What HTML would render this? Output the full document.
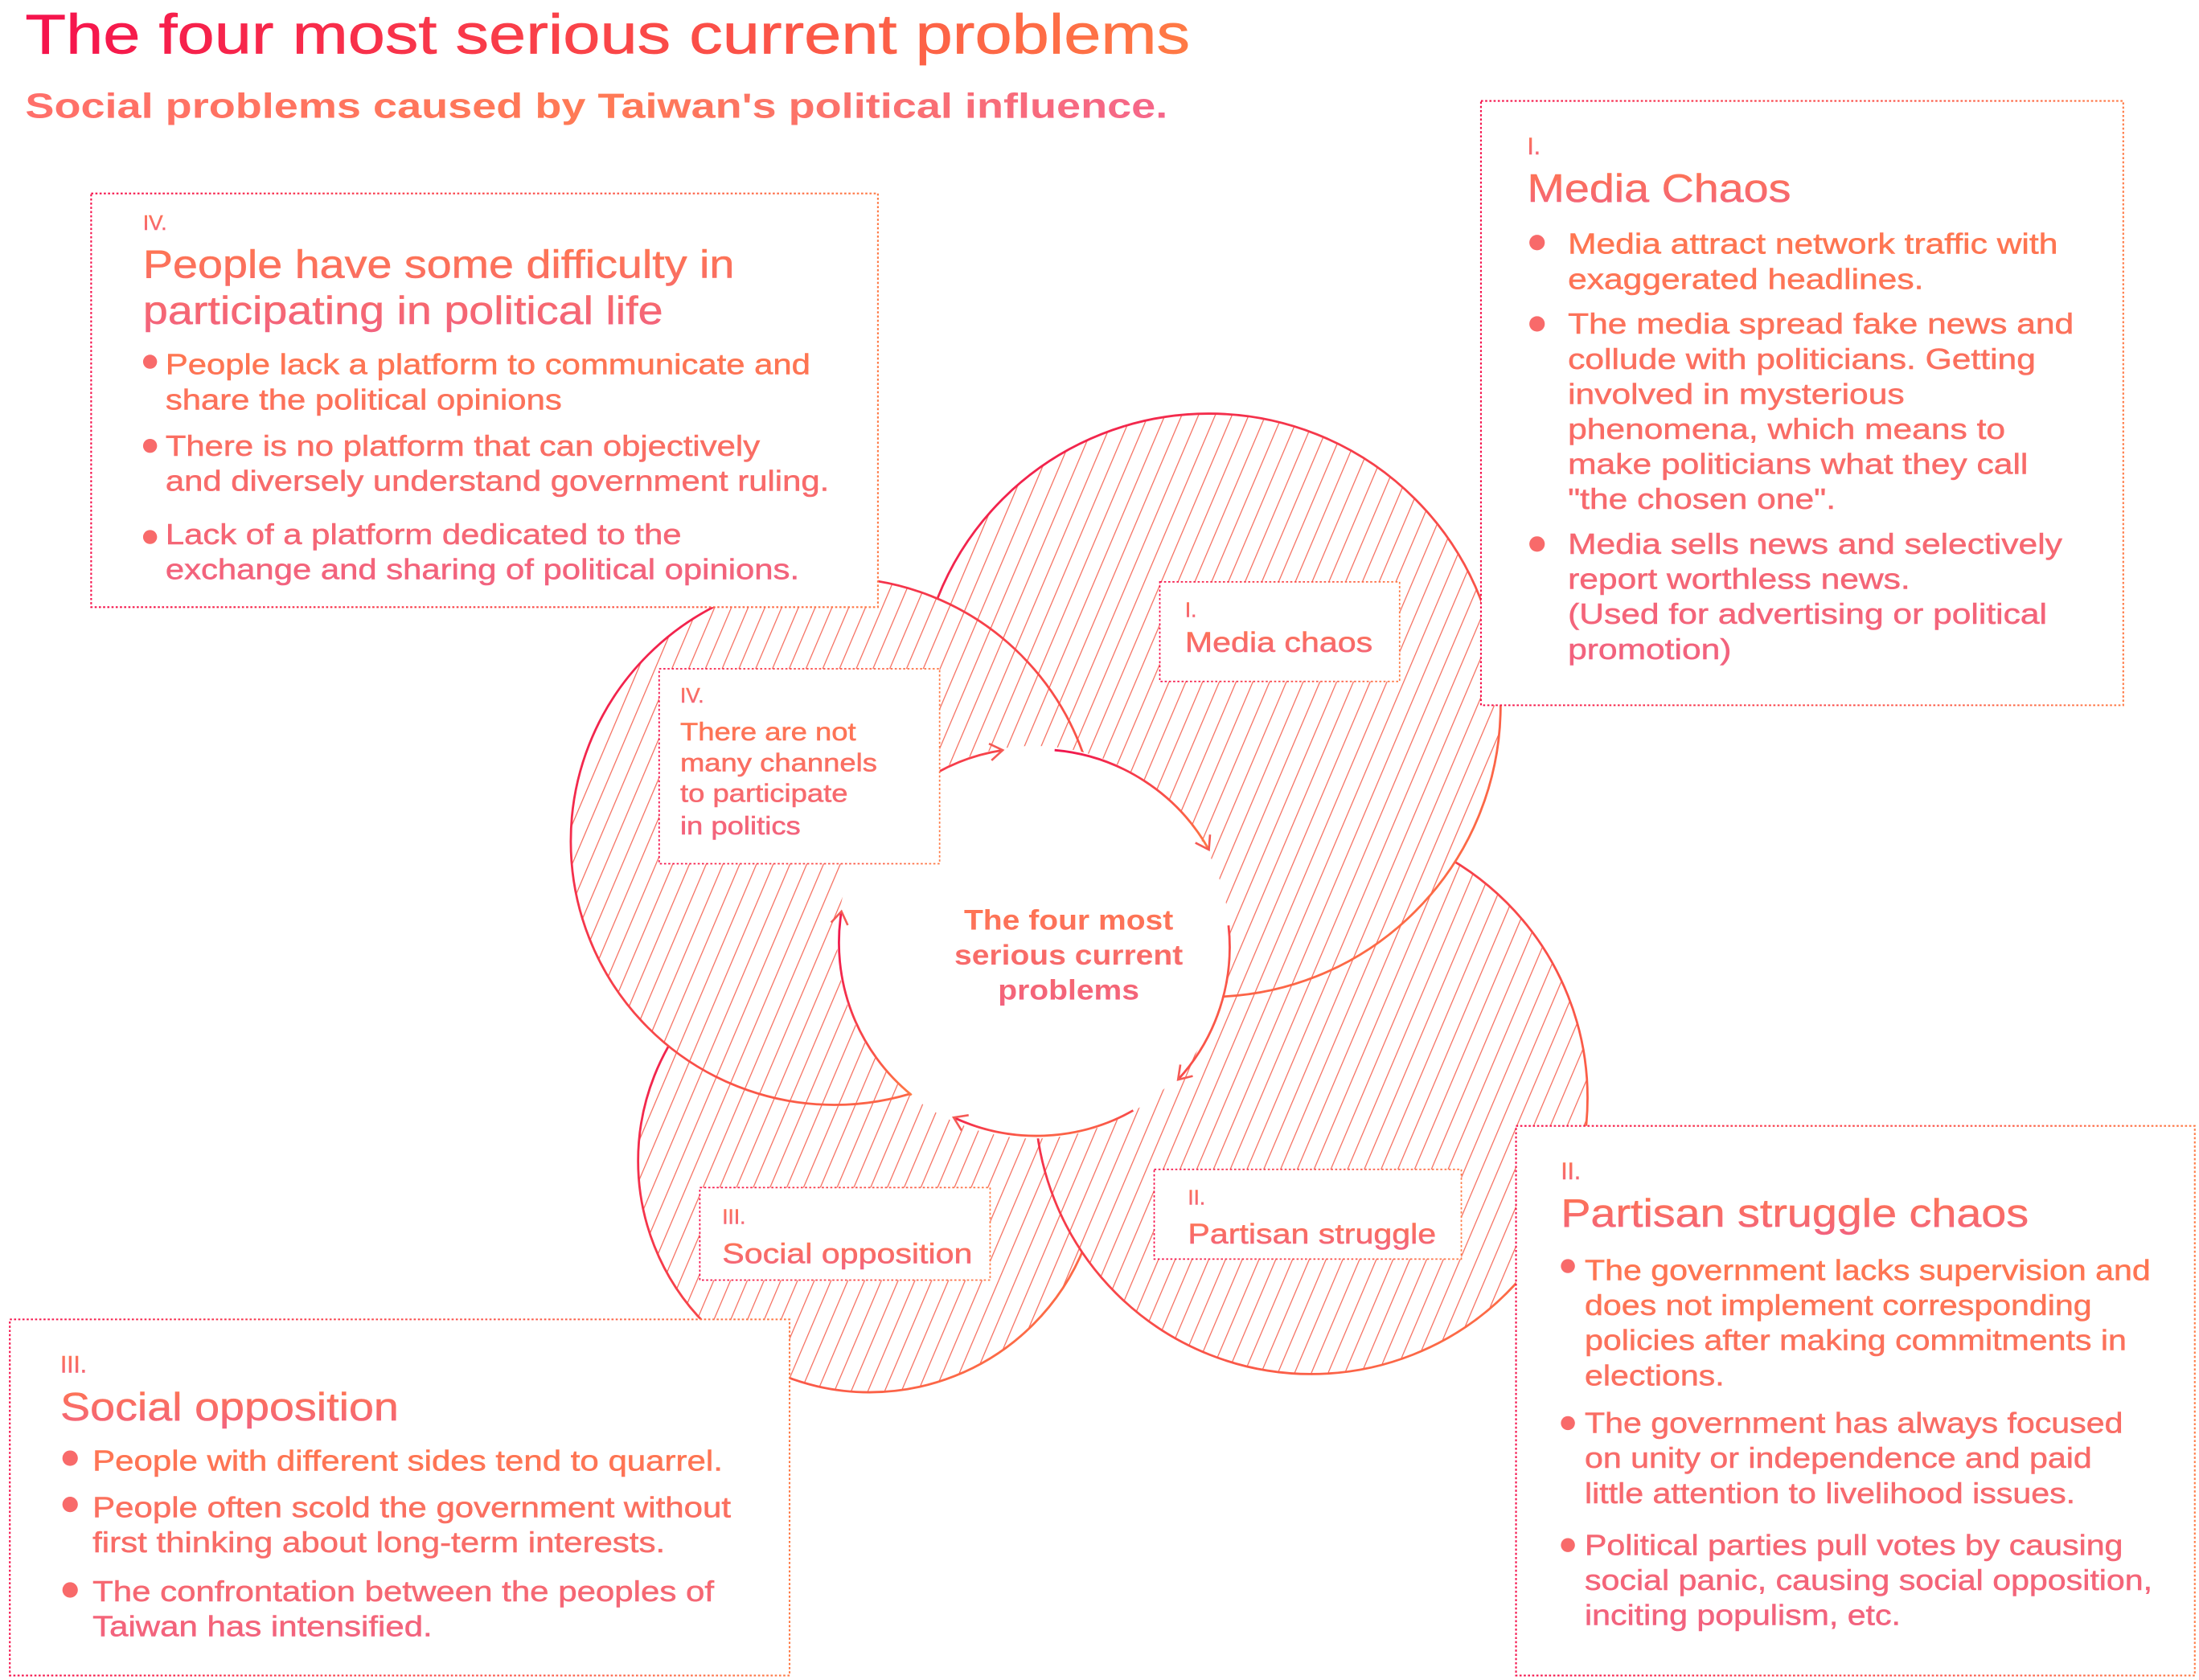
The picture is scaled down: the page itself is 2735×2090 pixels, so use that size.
<!DOCTYPE html>
<html><head><meta charset="utf-8"><style>
html,body{margin:0;padding:0;background:#fff;}
svg{display:block;}
text{font-family:"Liberation Sans",sans-serif;}
</style></head><body>
<svg width="2735" height="2090" viewBox="0 0 1568 1198.2" xmlns="http://www.w3.org/2000/svg">
<defs>
<linearGradient id="tg" x1="0" y1="0" x2="1" y2="0"><stop offset="0" stop-color="#f5124c"/><stop offset="1" stop-color="#ff7a45"/></linearGradient>
<linearGradient id="sg" x1="0" y1="0" x2="1" y2="0"><stop offset="0" stop-color="#ff6f6a"/><stop offset="0.5" stop-color="#ff7a55"/><stop offset="1" stop-color="#f5668a"/></linearGradient>
<linearGradient id="bg" x1="0" y1="0" x2="1" y2="0"><stop offset="0" stop-color="#f5124c"/><stop offset="1" stop-color="#ff7a45"/></linearGradient>
<linearGradient id="txt" x1="0" y1="0" x2="0" y2="1"><stop offset="0" stop-color="#ff7650"/><stop offset="1" stop-color="#f2627f"/></linearGradient>
<linearGradient id="cg" x1="0" y1="0" x2="1" y2="1"><stop offset="0" stop-color="#f0144e"/><stop offset="1" stop-color="#ff7a45"/></linearGradient>
<pattern id="hatch" patternUnits="userSpaceOnUse" width="11" height="11" patternTransform="rotate(23)">
<rect width="11" height="11" fill="#fff"/>
<line x1="0" y1="0" x2="0" y2="11" stroke="#f56a5a" stroke-width="1.4"/>
</pattern>
<marker id="ah" markerWidth="14" markerHeight="14" refX="10" refY="7" orient="auto" markerUnits="userSpaceOnUse">
<path d="M1,1 L10,7 L1,13" fill="none" stroke="#f55a55" stroke-width="1.5"/>
</marker>
</defs>

<text x="18" y="38" font-size="40" fill="url(#tg)" stroke="url(#tg)" stroke-width="0.4" transform="matrix(1.19,0,0,1,-3.42,0)">The four most serious current problems</text>
<text x="18" y="84" font-size="25" font-weight="bold" fill="url(#sg)" transform="matrix(1.24,0,0,1,-4.32,0)">Social problems caused by Taiwan's political influence.</text>

<!-- circles -->
<circle cx="620" cy="828" r="165" fill="url(#hatch)" stroke="url(#cg)" stroke-width="1.6"/>
<circle cx="935" cy="783" r="197" fill="url(#hatch)" stroke="url(#cg)" stroke-width="1.6"/>
<circle cx="862" cy="503" r="208" fill="url(#hatch)" stroke="url(#cg)" stroke-width="1.6"/>
<circle cx="595" cy="600" r="188" fill="url(#hatch)" stroke="url(#cg)" stroke-width="1.6"/>
<circle cx="737" cy="672" r="140" fill="#fff"/>

<g fill="none" stroke="url(#cg)" stroke-width="1.6" marker-end="url(#ah)">
<path d="M610,613 A140,140 0 0 1 715,535"/>
<path d="M752,535 A140,140 0 0 1 862,606"/>
<path d="M876,660 A140,140 0 0 1 840,770"/>
<path d="M808,792 A140,140 0 0 1 680,797"/>
<path d="M650,781 A140,140 0 0 1 600,650"/>
</g>

<text font-size="20" font-weight="bold" fill="url(#txt)" text-anchor="middle" transform="matrix(1.12,0,0,1,-91.44,0)">
<tspan x="762" y="663">The four most</tspan><tspan x="762" y="688">serious current</tspan><tspan x="762" y="713">problems</tspan></text>

<g fill="#fff" stroke="url(#bg)" stroke-width="1" stroke-dasharray="1.5 1.5">
<rect x="827" y="415" width="171" height="71"/>
<rect x="470" y="477" width="200" height="139"/>
<rect x="499" y="847" width="207" height="66"/>
<rect x="823" y="834" width="219" height="64"/>
</g>
<g fill="url(#txt)" stroke="url(#txt)" stroke-width="0.3">
<text x="845" y="440" font-size="15">I.</text>
<text x="845" y="465" font-size="20" transform="matrix(1.18,0,0,1,-152.1,0)">Media chaos</text>
<text x="485" y="501" font-size="15">IV.</text>
<text font-size="18" transform="matrix(1.16,0,0,1,-77.6,0)"><tspan x="485" y="528">There are not</tspan><tspan x="485" y="550">many channels</tspan><tspan x="485" y="572">to participate</tspan><tspan x="485" y="595">in politics</tspan></text>
<text x="515" y="873" font-size="15">III.</text>
<text x="515" y="901" font-size="20" transform="matrix(1.18,0,0,1,-92.7,0)">Social opposition</text>
<text x="847" y="859" font-size="15">II.</text>
<text x="847" y="887" font-size="20" transform="matrix(1.18,0,0,1,-152.46,0)">Partisan struggle</text>
</g>

<g fill="#fff" stroke="url(#bg)" stroke-width="1.2" stroke-dasharray="1.5 1.5">
<rect x="65" y="138" width="561" height="295"/>
<rect x="1056" y="72" width="458" height="431"/>
<rect x="1081" y="803" width="484" height="392"/>
<rect x="7" y="941" width="556" height="254"/>
</g>

<g fill="#f86a6a">
<circle cx="107" cy="258" r="5"/><circle cx="107" cy="318" r="5"/><circle cx="107" cy="383" r="5"/>
<circle cx="1096" cy="173" r="5.5"/><circle cx="1096" cy="231" r="5.5"/><circle cx="1096" cy="388" r="5.5"/>
<circle cx="1118" cy="903" r="5"/><circle cx="1118" cy="1015" r="5"/><circle cx="1118" cy="1102" r="5"/>
<circle cx="50" cy="1040" r="5.5"/><circle cx="50" cy="1073" r="5.5"/><circle cx="50" cy="1134" r="5.5"/>
</g>

<g fill="url(#txt)" stroke="url(#txt)" stroke-width="0.3">
<text x="102" y="164" font-size="15">IV.</text>
<text font-size="28" transform="matrix(1.14,0,0,1,-14.28,0)"><tspan x="102" y="198">People have some difficulty in</tspan><tspan x="102" y="231">participating in political life</tspan></text>
<text font-size="20.5" transform="matrix(1.17,0,0,1,-20.06,0)"><tspan x="118" y="267">People lack a platform to communicate and</tspan><tspan x="118" y="292">share the political opinions</tspan>
<tspan x="118" y="325">There is no platform that can objectively</tspan><tspan x="118" y="350">and diversely understand government ruling.</tspan>
<tspan x="118" y="388">Lack of a platform dedicated to the</tspan><tspan x="118" y="413">exchange and sharing of political opinions.</tspan></text>

<text x="1089" y="110" font-size="17">I.</text>
<text x="1089" y="144" font-size="28" transform="matrix(1.14,0,0,1,-152.46,0)">Media Chaos</text>
<text font-size="20.5" transform="matrix(1.19,0,0,1,-212.42,0)"><tspan x="1118" y="181">Media attract network traffic with</tspan><tspan x="1118" y="206">exaggerated headlines.</tspan>
<tspan x="1118" y="238">The media spread fake news and</tspan><tspan x="1118" y="263">collude with politicians. Getting</tspan><tspan x="1118" y="288">involved in mysterious</tspan><tspan x="1118" y="313">phenomena, which means to</tspan><tspan x="1118" y="338">make politicians what they call</tspan><tspan x="1118" y="363">"the chosen one".</tspan>
<tspan x="1118" y="395">Media sells news and selectively</tspan><tspan x="1118" y="420">report worthless news.</tspan><tspan x="1118" y="445">(Used for advertising or political</tspan><tspan x="1118" y="470">promotion)</tspan></text>

<text x="1113" y="841" font-size="17">II.</text>
<text x="1113" y="875" font-size="28" transform="matrix(1.14,0,0,1,-155.82,0)">Partisan struggle chaos</text>
<text font-size="20.5" transform="matrix(1.15,0,0,1,-169.5,0)"><tspan x="1130" y="913">The government lacks supervision and</tspan><tspan x="1130" y="938">does not implement corresponding</tspan><tspan x="1130" y="963">policies after making commitments in</tspan><tspan x="1130" y="988">elections.</tspan>
<tspan x="1130" y="1022">The government has always focused</tspan><tspan x="1130" y="1047">on unity or independence and paid</tspan><tspan x="1130" y="1072">little attention to livelihood issues.</tspan>
<tspan x="1130" y="1109">Political parties pull votes by causing</tspan><tspan x="1130" y="1134">social panic, causing social opposition,</tspan><tspan x="1130" y="1159">inciting populism, etc.</tspan></text>

<text x="43" y="979" font-size="17">III.</text>
<text x="43" y="1013" font-size="28" transform="matrix(1.14,0,0,1,-6.02,0)">Social opposition</text>
<text font-size="20.5" transform="matrix(1.175,0,0,1,-11.55,0)"><tspan x="66" y="1049">People with different sides tend to quarrel.</tspan>
<tspan x="66" y="1082">People often scold the government without</tspan><tspan x="66" y="1107">first thinking about long-term interests.</tspan>
<tspan x="66" y="1142">The confrontation between the peoples of</tspan><tspan x="66" y="1167">Taiwan has intensified.</tspan></text>
</g>
</svg>
</body></html>
